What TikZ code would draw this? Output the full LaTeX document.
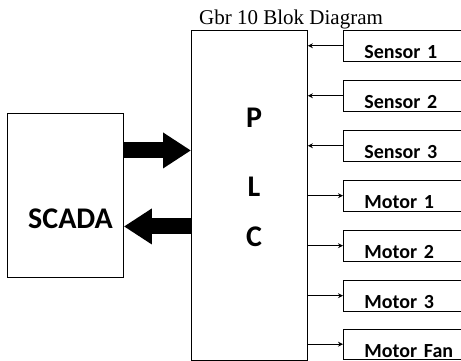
\documentclass[tikz,border=0pt]{standalone}
\usepackage{fontspec}
\setmainfont{Liberation Serif}
\newfontfamily\carlito{Carlito}
\usetikzlibrary{arrows.meta}

\begin{document}
\begin{tikzpicture}[x=1pt, y=-1pt,
    box/.style={draw, line width=0.9pt, inner sep=0pt},
    io/.style={box, anchor=north west, text width=100pt, align=left, inner xsep=21pt, inner ysep=0.75pt,
               text height=27.5pt, text depth=1.5pt, font=\carlito\bfseries\fontsize{20}{24}\selectfont},
    big/.style={inner sep=0pt, font=\carlito\bfseries\fontsize{30}{36}\selectfont},
    arrow/.style={->, line width=0.8pt, >={Stealth[length=5pt, width=5pt]}},
    bigarrow/.style={line width=16pt, -{Triangle[length=28pt, width=34pt]}},
  ]
    \useasboundingbox (0,0) rectangle (461,360);
    \clip (0,0) rectangle (461,360);

    \node[anchor=base west, inner sep=0pt, font=\fontsize{21}{25}\selectfont] (title) at (199,24) {Gbr 10 Blok Diagram};

    \node[box, anchor=north west, minimum width=116pt, minimum height=164pt] (scada) at (7,113) {};
    \node[big, anchor=base west] (scadalbl) at (28,228) {SCADA};

    \node[box, anchor=north west, minimum width=116pt, minimum height=330pt] (plc) at (191,30) {};
    \node[big, anchor=base] (plcp) at (254,127) {P};
    \node[big, anchor=base] (plcl) at (254,196) {L};
    \node[big, anchor=base] (plcc) at (254,246) {C};

    \node[io] (sen1) at (343,30)  {Sensor 1};
    \node[io] (sen2) at (343,80)  {Sensor 2};
    \node[io] (sen3) at (343,130) {Sensor 3};
    \node[io] (mot1) at (343,180) {Motor 1};
    \node[io] (mot2) at (343,230) {Motor 2};
    \node[io] (mot3) at (343,280) {Motor 3};
    \node[io] (fan)  at (343,328.5) {Motor Fan};

    \draw[arrow] (sen1.west) -- (sen1.west -| plc.east);
    \draw[arrow] (sen2.west) -- (sen2.west -| plc.east);
    \draw[arrow] (sen3.west) -- (sen3.west -| plc.east);
    \draw[arrow] (mot1.west -| plc.east) -- (mot1.west);
    \draw[arrow] (mot2.west -| plc.east) -- (mot2.west);
    \draw[arrow] (mot3.west -| plc.east) -- (mot3.west);
    \draw[arrow] (fan.west -| plc.east) -- (fan.west);

    \draw[bigarrow] ([yshift=45pt]scada.east) -- ([yshift=45pt]scada.east -| plc.west);
    \draw[bigarrow] ([yshift=-31pt]scada.east -| plc.west) -- ([yshift=-31pt]scada.east);
  \end{tikzpicture}
\end{document}
